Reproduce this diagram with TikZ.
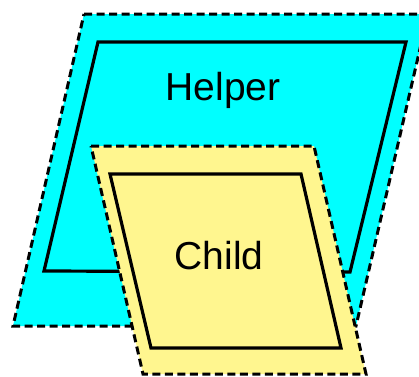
\documentclass[tikz,border=0pt]{standalone}
\usepackage{fontspec}
\setmainfont{Liberation Sans}
\definecolor{helpercyan}{RGB}{0,255,255}
\definecolor{childyellow}{RGB}{255,246,143}
\tikzset{
  outerbox/.style={line width=3pt, dash pattern=on 8pt off 4.5pt},
  innerbox/.style={line width=3.2pt, line join=miter},
  label/.style={font=\fontsize{39}{44}\selectfont, inner sep=0pt}
}
\begin{document}
\begin{tikzpicture}[x=1pt,y=-1pt]
\useasboundingbox (0,0) rectangle (419,376);
\begin{scope}
\clip (0,0) rectangle (419,376);
% Helper outer
\draw[outerbox, fill=helpercyan] (84,14) -- (428,14) -- (356,326) -- (13,326) -- cycle;
\draw[innerbox] (98,42) -- (406,42) -- (350,272) -- (44,271) -- cycle;
% Child outer
\draw[outerbox, fill=childyellow] (91,146) -- (314,146) -- (366,374) -- (143,374) -- cycle;
\draw[innerbox] (110,174) -- (301,174) -- (341,348) -- (151,348) -- cycle;
\end{scope}
\node[label] (helper) at (223,90) {Helper};
\node[label] (child) at (219,256) {Child};
\end{tikzpicture}
\end{document}
